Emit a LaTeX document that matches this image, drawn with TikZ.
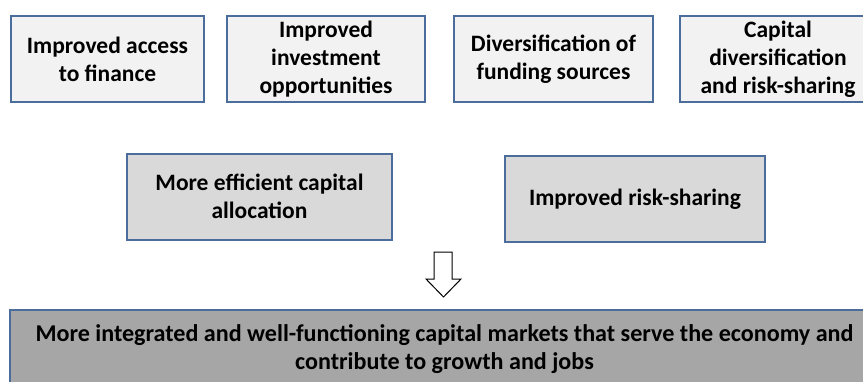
\documentclass[tikz,border=0pt]{standalone}
\usepackage{fontspec}
\setmainfont{Carlito}
\usetikzlibrary{positioning}
\definecolor{BoxLine}{HTML}{4A6D9B}
\definecolor{LightFill}{HTML}{F2F2F2}
\definecolor{MidFill}{HTML}{D9D9D9}
\definecolor{DarkFill}{HTML}{A6A6A6}

\begin{document}
\begin{tikzpicture}[x=1pt,y=-1pt,every node/.style={font=\fontsize{23.5}{28}\selectfont\bfseries,align=center,inner sep=0pt},
    causebox/.style={draw=BoxLine,fill=LightFill,line width=2pt,minimum width=193pt,minimum height=86pt},
    effectbox/.style={draw=BoxLine,fill=MidFill,line width=2pt,minimum height=86pt},
    goalbox/.style={draw=BoxLine,fill=DarkFill,line width=2pt,minimum width=869pt,minimum height=78pt,font=\fontsize{24.1}{28}\selectfont\bfseries}]
  \useasboundingbox (0,0) rectangle (863,381);
  \clip (0,0) rectangle (863,381);
    \node[causebox] (access) at (107.5,59) {Improved access\\to finance};
    \node[causebox,minimum width=198pt] (invest) at (326,59) {Improved\\investment\\opportunities};
    \node[causebox,minimum width=199pt] (funding) at (553.5,59) {Diversification of\\funding sources};
    \node[causebox,minimum width=196pt] (capital) at (778,59) {Capital\\diversification\\and risk-sharing};
    \node[effectbox,minimum width=265pt] (alloc) at (259.5,196.5) {More efficient capital\\allocation};
    \node[effectbox,minimum width=260pt] (risk) at (635,199) {Improved risk-sharing};
    \node[goalbox] (markets) at (444.5,349) {More integrated and well-functioning capital markets that serve the economy and\\contribute to growth and jobs};
    \draw[line width=1pt,fill=white] (434,252) -- (452,252) -- (452,279) -- (461,279) -- (443.5,297) -- (426,279) -- (434,279) -- cycle;
  \end{tikzpicture}
\end{document}
